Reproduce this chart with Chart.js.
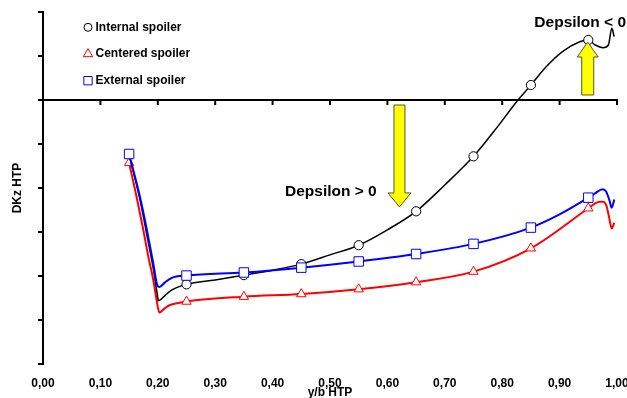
<!DOCTYPE html>
<html>
<head>
<meta charset="utf-8">
<script src="https://cdn.jsdelivr.net/npm/chart.js@4/dist/chart.umd.min.js"></script>
<style>
  html, body { margin: 0; padding: 0; background: #fff; }
  canvas { display: block; }
</style>
</head>
<body>
<canvas id="c" width="627" height="398"></canvas>
<script>
// Spanwise position along the stabiliser and the DKz increment for each spoiler position
const seriesNames = ['Internal spoiler', 'Centered spoiler', 'External spoiler'];

const internalX = [0.15, 0.169, 0.181, 0.192, 0.199, 0.201, 0.212, 0.224, 0.25, 0.30, 0.35, 0.40, 0.45, 0.50, 0.55, 0.60, 0.65, 0.70, 0.75, 0.79, 0.8275, 0.85, 0.877, 0.905, 0.935, 0.95, 0.962, 0.976, 0.985, 0.991, 0.995];
const internalY = [-1.25, -2.27, -3.07, -3.82, -4.40, -4.56, -4.45, -4.32, -4.19, -4.09, -3.98, -3.87, -3.73, -3.52, -3.30, -2.95, -2.53, -1.93, -1.28, -0.64, 0.00, 0.34, 0.76, 1.10, 1.325, 1.364, 1.25, 1.19, 1.25, 1.63, 1.44];
const internalMarkers = [0.25, 0.35, 0.45, 0.55, 0.65, 0.75, 0.85, 0.95];

const centeredX = [0.15, 0.163, 0.1747, 0.1835, 0.1921, 0.198, 0.2026, 0.2125, 0.2213, 0.25, 0.35, 0.45, 0.55, 0.65, 0.75, 0.85, 0.95, 0.962, 0.970, 0.976, 0.982, 0.9866, 0.9907, 0.9953];
const centeredY = [-1.43, -2.20, -2.95, -3.56, -4.09, -4.55, -4.83, -4.73, -4.66, -4.58, -4.47, -4.41, -4.30, -4.14, -3.90, -3.37, -2.46, -2.35, -2.31, -2.31, -2.42, -2.69, -2.92, -2.79];
const centeredMarkers = [0.15, 0.25, 0.35, 0.45, 0.55, 0.65, 0.75, 0.85, 0.95];

const externalX = [0.15, 0.169, 0.181, 0.192, 0.199, 0.203, 0.212, 0.224, 0.25, 0.35, 0.45, 0.55, 0.65, 0.75, 0.85, 0.90, 0.95, 0.9617, 0.975, 0.981, 0.9866, 0.9907, 0.9953];
const externalY = [-1.227, -2.205, -2.955, -3.705, -4.205, -4.25, -4.15, -4.045, -3.99, -3.92, -3.81, -3.67, -3.50, -3.27, -2.90, -2.60, -2.22, -2.12, -2.03, -2.08, -2.27, -2.45, -2.26];
const externalMarkers = [0.15, 0.25, 0.35, 0.45, 0.55, 0.65, 0.75, 0.85, 0.95];

const xTickLabels = ['0,00', '0,10', '0,20', '0,30', '0,40', '0,50', '0,60', '0,70', '0,80', '0,90', '1,00'];

// Text and arrow annotations, placed in axis units
const notes = [
  { text: 'Depsilon > 0', x: 0.4216, y: -2.18 },
  { text: 'Depsilon < 0', x: 0.856, y: 1.652 }
];
const arrows = [
  { x: 0.621, from: -0.114, to: -2.43, shaft: 11, head: 23, headLen: 14 },
  { x: 0.949, from: 0.114, to: 1.318, shaft: 12, head: 21, headLen: 15 }
];

const FONT = '"Liberation Sans", Arial, Helvetica, sans-serif';

function toPoints(xs, ys) {
  return xs.map((x, i) => ({ x: x, y: ys[i] }));
}
function markerRadius(marks, r) {
  return ctx => {
    const p = ctx.raw;
    if (!p) return 0;
    return marks.some(m => Math.abs(m - p.x) < 1e-6) ? r : 0;
  };
}

function drawMarker(ctx, style, x, y, r, color) {
  ctx.save();
  ctx.fillStyle = '#fff';
  ctx.strokeStyle = color;
  ctx.lineWidth = 1;
  ctx.beginPath();
  if (style === 'circle') {
    ctx.arc(x, y, r, 0, Math.PI * 2);
  } else if (style === 'triangle') {
    ctx.moveTo(x, y - r);
    ctx.lineTo(x + r * 0.866, y + r * 0.5);
    ctx.lineTo(x - r * 0.866, y + r * 0.5);
    ctx.closePath();
  } else {
    ctx.rect(x - r * 0.707, y - r * 0.707, r * 1.414, r * 1.414);
  }
  ctx.fill();
  ctx.stroke();
  ctx.restore();
}

// Zero line with its tick marks, drawn under the curves
const zeroLine = {
  id: 'zeroLine',
  beforeDatasetsDraw(chart) {
    const { ctx, scales: { x, y } } = chart;
    const y0 = y.getPixelForValue(0);
    ctx.save();
    ctx.strokeStyle = '#000';
    ctx.lineWidth = 2;
    ctx.beginPath();
    ctx.moveTo(x.getPixelForValue(0), y0);
    ctx.lineTo(x.getPixelForValue(1) + 1, y0);
    x.ticks.forEach(t => {
      if (t.value <= 0) return;
      const px = x.getPixelForValue(t.value);
      ctx.moveTo(px, y0);
      ctx.lineTo(px, y0 + 5);
    });
    ctx.stroke();
    ctx.restore();
  }
};

// Legend box, arrows and comments on top of the curves
const overlay = {
  id: 'overlay',
  afterDatasetsDraw(chart) {
    const { ctx, chartArea, scales: { x, y } } = chart;

    // legend in the top-left corner of the plot
    const order = [0, 1, 2];
    const lx = chartArea.left + 45;
    let ly = chartArea.top + 15.3;
    order.forEach(i => {
      const ds = chart.data.datasets[i];
      const r = ds.pointStyle === 'circle' ? 4 : (ds.pointStyle === 'triangle' ? 5.4 : 5.9);
      drawMarker(ctx, ds.pointStyle, lx, ly, r, ds.borderColor);
      ctx.save();
      ctx.fillStyle = '#000';
      ctx.font = 'bold 12px ' + FONT;
      ctx.textBaseline = 'middle';
      ctx.textAlign = 'left';
      ctx.fillText(ds.label, lx + 7.5, ly);
      ctx.restore();
      ly += 26.7;
    });

    // yellow arrows
    arrows.forEach(a => {
      const px = x.getPixelForValue(a.x);
      const y1 = y.getPixelForValue(a.from);
      const y2 = y.getPixelForValue(a.to);
      const dir = y2 > y1 ? 1 : -1;
      const base = y2 - dir * a.headLen;
      ctx.save();
      ctx.fillStyle = '#ffff00';
      ctx.strokeStyle = '#555533';
      ctx.lineWidth = 1;
      ctx.beginPath();
      ctx.moveTo(px - a.shaft / 2, y1);
      ctx.lineTo(px + a.shaft / 2, y1);
      ctx.lineTo(px + a.shaft / 2, base);
      ctx.lineTo(px + a.head / 2, base);
      ctx.lineTo(px, y2);
      ctx.lineTo(px - a.head / 2, base);
      ctx.lineTo(px - a.shaft / 2, base);
      ctx.closePath();
      ctx.fill();
      ctx.stroke();
      ctx.restore();
    });

    // comments
    notes.forEach(n => {
      ctx.save();
      ctx.fillStyle = '#000';
      ctx.font = 'bold 15.5px ' + FONT;
      ctx.textBaseline = 'alphabetic';
      ctx.textAlign = 'left';
      ctx.fillText(n.text, x.getPixelForValue(n.x), y.getPixelForValue(n.y));
      ctx.restore();
    });
  }
};

new Chart(document.getElementById('c'), {
  type: 'line',
  data: {
    datasets: [
      {
        label: seriesNames[0],
        data: toPoints(internalX, internalY),
        borderColor: '#000000',
        borderWidth: 1.5,
        pointStyle: 'circle',
        pointRadius: markerRadius(internalMarkers, 4.6),
        pointBackgroundColor: '#ffffff',
        pointBorderColor: '#000000',
        pointBorderWidth: 1,
        cubicInterpolationMode: 'monotone',
        order: 1
      },
      {
        label: seriesNames[1],
        data: toPoints(centeredX, centeredY),
        borderColor: '#ff0000',
        borderWidth: 2,
        pointStyle: 'triangle',
        pointRadius: markerRadius(centeredMarkers, 5.4),
        pointBackgroundColor: '#ffffff',
        pointBorderColor: '#ff0000',
        pointBorderWidth: 1,
        cubicInterpolationMode: 'monotone',
        order: 2
      },
      {
        label: seriesNames[2],
        data: toPoints(externalX, externalY),
        borderColor: '#0000ff',
        borderWidth: 2,
        pointStyle: 'rect',
        pointRadius: markerRadius(externalMarkers, 6.7),
        pointBackgroundColor: '#ffffff',
        pointBorderColor: '#0000ff',
        pointBorderWidth: 1,
        cubicInterpolationMode: 'monotone',
        order: 0
      }
    ]
  },
  options: {
    responsive: false,
    animation: false,
    events: [],
    layout: { padding: { top: 12, left: 0, right: 0, bottom: 0 } },
    plugins: {
      legend: { display: false },
      tooltip: { enabled: false },
      title: { display: false }
    },
    scales: {
      x: {
        type: 'linear',
        position: 'bottom',
        min: 0,
        max: 1,
        border: { display: false },
        grid: { display: false },
        ticks: {
          stepSize: 0.1,
          autoSkip: false,
          maxRotation: 0,
          padding: 6,
          color: '#000',
          font: { family: FONT, size: 12, weight: 'bold', lineHeight: 1 },
          callback: (v, i) => xTickLabels[i]
        },
        title: {
          display: true,
          text: 'y/b HTP',
          color: '#000',
          padding: 0,
          font: { family: FONT, size: 12, weight: 'bold', lineHeight: 10 / 12 }
        },
        afterFit(scale) {
          scale.paddingLeft = 0;
          scale.paddingRight = 10;
          scale.height = 34;
        }
      },
      y: {
        type: 'linear',
        min: -6,
        max: 2,
        border: { display: true, color: '#000', width: 2 },
        grid: { drawOnChartArea: false, drawTicks: true, tickLength: 5, color: '#000', lineWidth: 2 },
        ticks: { display: false, stepSize: 1 },
        title: {
          display: true,
          text: 'DKz HTP',
          color: '#000',
          padding: { top: 12, bottom: 14 },
          font: { family: FONT, size: 12, weight: 'bold', lineHeight: 1 }
        }
      }
    }
  },
  plugins: [zeroLine, overlay]
});
</script>
</body>
</html>
